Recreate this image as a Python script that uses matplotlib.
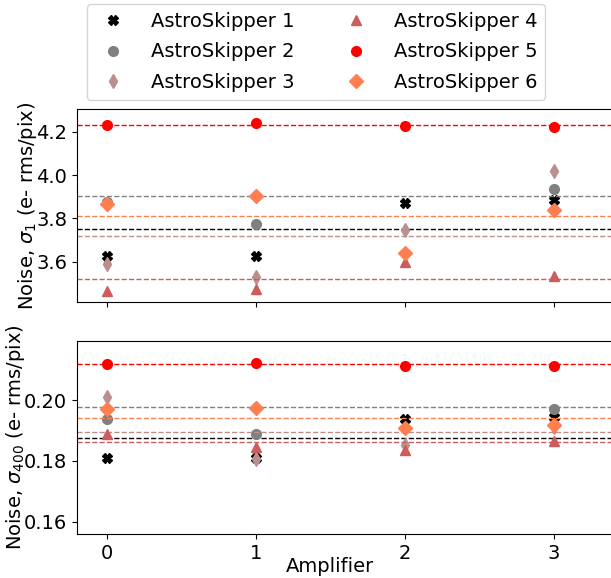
import numpy as np
import matplotlib.pyplot as plt

# Amplificadores
amplificadores = [0, 1, 2, 3]

nombres = ['AstroSkipper 1', 'AstroSkipper 2', 'AstroSkipper 3',
           'AstroSkipper 4', 'AstroSkipper 5', 'AstroSkipper 6']
marcadores = ['X', 'o', 'd', '^', 'o', 'D']
colores = ['black', 'gray', 'rosybrown', 'indianred', 'red', 'coral']

# Ruido sigma_1 (e- rms/pix) por amplificador (NaN = no visible)
sigma1_as1 = [3.626, 3.628, 3.869, 3.885]
sigma1_as2 = [3.877, 3.774, np.nan, 3.935]
sigma1_as3 = [3.588, 3.531, 3.746, 4.018]
sigma1_as4 = [3.466, 3.472, 3.599, 3.534]
sigma1_as5 = [4.232, 4.242, 4.225, 4.222]
sigma1_as6 = [3.865, 3.902, 3.639, 3.837]
# Nivel de referencia (línea discontinua) de cada detector
sigma1_nivel = [3.752, 3.904, 3.721, 3.518, 4.231, 3.809]

# Ruido sigma_400 (e- rms/pix)
sigma400_as1 = [0.1809, 0.1811, 0.1937, 0.1944]
sigma400_as2 = [0.1937, 0.1888, np.nan, 0.1969]
sigma400_as3 = [0.2009, 0.1806, 0.1853, 0.1912]
sigma400_as4 = [0.1890, 0.1846, 0.1835, 0.1866]
sigma400_as5 = [0.2117, 0.2122, 0.2113, 0.2111]
sigma400_as6 = [0.1969, 0.1973, 0.1907, 0.1918]
sigma400_nivel = [0.1874, 0.1976, 0.1895, 0.1862, 0.2117, 0.1942]

sigma1 = [sigma1_as1, sigma1_as2, sigma1_as3, sigma1_as4, sigma1_as5, sigma1_as6]
sigma400 = [sigma400_as1, sigma400_as2, sigma400_as3, sigma400_as4, sigma400_as5, sigma400_as6]

plt.rcParams['font.size'] = 14

fig = plt.figure(figsize=(6.11, 5.78), dpi=100)
ax1 = fig.add_axes([77/611, 1 - 302/578, 551/611, 193/578])
ax2 = fig.add_axes([77/611, 1 - 534/578, 551/611, 193/578], sharex=ax1)

for i in range(6):
    ax1.plot(amplificadores, sigma1[i], linestyle='none', marker=marcadores[i],
             color=colores[i], markersize=7, label=nombres[i])
    ax1.axhline(sigma1_nivel[i], color=colores[i], linestyle='--', linewidth=1)
    ax2.plot(amplificadores, sigma400[i], linestyle='none', marker=marcadores[i],
             color=colores[i], markersize=7)
    ax2.axhline(sigma400_nivel[i], color=colores[i], linestyle='--', linewidth=1)

ax1.set_xlim(-0.2, 3.5)
ax1.set_ylim(3.414, 4.305)
ax2.set_ylim(0.156, 0.2194)
ax1.set_xticks(amplificadores)
ax1.set_yticks([3.6, 3.8, 4.0, 4.2])
ax2.set_yticks([0.16, 0.18, 0.20])
ax1.tick_params(labelbottom=False)

ax1.set_ylabel(r'Noise, $\sigma_1$ (e- rms/pix)')
ax2.set_ylabel(r'Noise, $\sigma_{400}$ (e- rms/pix)')
ax2.set_xlabel('Amplifier')
ax1.yaxis.set_label_coords(-0.069, 0.5)
ax2.yaxis.set_label_coords(-0.090, 0.5)
ax2.xaxis.set_label_coords(0.46, -0.118)

fig.legend(loc='upper center', bbox_to_anchor=(0.5172, 0.9931), ncol=2,
           borderaxespad=0, labelspacing=0.6,
           handlelength=1.87, handletextpad=1.02, columnspacing=2.2)

fig.savefig('out.png', dpi=100)
